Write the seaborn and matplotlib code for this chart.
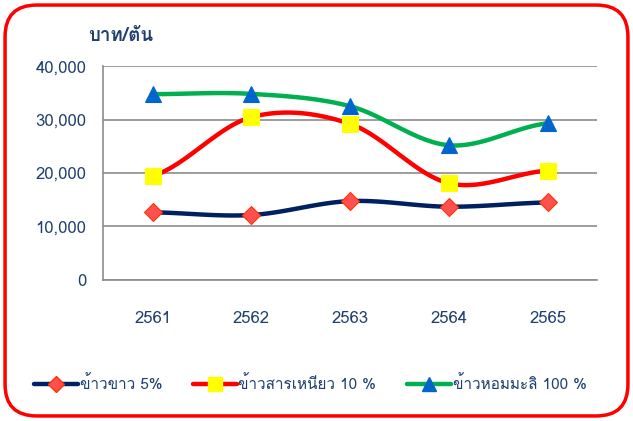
import numpy as np
import pandas as pd
import matplotlib
matplotlib.use("Agg")
import matplotlib.pyplot as plt
import seaborn as sns
from matplotlib import font_manager
from matplotlib.ft2font import FT2Font
from matplotlib.lines import Line2D
from matplotlib.patches import FancyBboxPatch

years = ["2561", "2562", "2563", "2564", "2565"]
white_rice = [12650, 12150, 14750, 13700, 14500]
glutinous = [19450, 30450, 29200, 18100, 20450]
jasmine = [34750, 34800, 32500, 25200, 29300]
labels = ["ข้าวขาว 5%", "ข้าวสารเหนียว 10 %", "ข้าวหอมมะลิ 100 %"]
y_ticks = [0, 10000, 20000, 30000, 40000]
unit = "บาท/ตัน"

# find some installed font that has thai glyphs
thai = []
for f in font_manager.fontManager.ttflist:
    try:
        if 0x0E02 in FT2Font(f.fname).get_charmap():
            thai.append(f.name)
    except Exception:
        pass
pref = [n for n in thai if any(k in n for k in ["Tahoma", "Noto Sans Thai", "Loma", "Garuda", "Sarabun"])]
families = (pref[:1] or thai[:1]) + ["DejaVu Sans"]

sns.set_style("white")
plt.rcParams['font.family'] = families

txt = "#1F3F6E"
grid = "#8C8C8C"


def smooth(ys, n=30):
    # catmull-rom curve through the points, like excel smoothed lines
    x = np.arange(len(ys), dtype=float)
    y = np.asarray(ys, dtype=float)
    px = np.concatenate([[2 * x[0] - x[1]], x, [2 * x[-1] - x[-2]]])
    py = np.concatenate([[y[0]], y, [y[-1]]])
    xs, yy = [], []
    for i in range(1, len(px) - 2):
        t = np.linspace(0, 1, n)
        for arr, out in ((px, xs), (py, yy)):
            p0, p1, p2, p3 = arr[i - 1], arr[i], arr[i + 1], arr[i + 2]
            out.extend(0.5 * ((2 * p1) + (-p0 + p2) * t + (2 * p0 - 5 * p1 + 4 * p2 - p3) * t ** 2
                              + (-p0 + 3 * p1 - 3 * p2 + p3) * t ** 3))
    return np.array(xs), np.array(yy)


series = [
    (white_rice, "#002060", "D", "#FF5050", "#FF3300", 9.5),
    (glutinous, "#FF0000", "s", "#FFFF00", "#FFFF00", 11),
    (jasmine, "#00B050", "^", "#0066CC", "#0066CC", 11.5),
]

fig = plt.figure(figsize=(6.33, 4.21), dpi=100)
ax = fig.add_axes([0.163, 0.335, 0.780, 0.508])

handles = []
for vals, lc, mk, mfc, mec, ms in series:
    sx, sy = smooth(vals)
    sns.lineplot(x=sx, y=sy, ax=ax, color=lc, lw=3.2, sort=False, zorder=2)
    df = pd.DataFrame({"x": np.arange(len(years)), "y": vals})
    ax.plot(df["x"], df["y"], ls="none", marker=mk, ms=ms, mfc=mfc, mec=mec, mew=0.8, zorder=3)
    handles.append(Line2D([], [], color=lc, lw=3.2, marker=mk, ms=ms - 1, mfc=mfc, mec=mec))

ax.set_xlim(-0.5, 4.5)
ax.set_ylim(0, 40000)
ax.set_yticks(y_ticks)
ax.set_yticklabels([f"{v:,}" for v in y_ticks])
ax.set_xticks(range(len(years)))
ax.set_xticklabels(years)
ax.set_xticks(np.arange(-0.5, 5, 1), minor=True)
ax.tick_params(axis="x", which="major", length=0, pad=22, labelsize=12, labelcolor=txt)
ax.tick_params(axis="x", which="minor", length=7, width=1.2, color=grid, direction="out")
ax.tick_params(axis="y", length=6, width=1.2, color=grid, direction="out", pad=6, labelsize=12, labelcolor=txt)
ax.yaxis.grid(True, color=grid, lw=1.2)
ax.set_axisbelow(True)
for s in ["top", "right"]:
    ax.spines[s].set_visible(False)
for s in ["left", "bottom"]:
    ax.spines[s].set_color(grid)
    ax.spines[s].set_linewidth(1.2)
ax.set_xlabel("")
ax.set_ylabel("")

fig.text(0.139, 0.914, unit, fontsize=13.5, fontweight="bold", color=txt, ha="left", va="center")

leg = fig.legend(handles, labels, loc="center", bbox_to_anchor=(0.49, 0.088), ncol=3, frameon=False,
                 fontsize=11, handlelength=2.9, handletextpad=0.1, columnspacing=2.0)
for t in leg.get_texts():
    t.set_color(txt)

border = FancyBboxPatch((0.008, 0.012), 0.984, 0.976, boxstyle="round,pad=0,rounding_size=0.05",
                        transform=fig.transFigure, fc="none", ec="#FF0000", lw=2.5, mutation_aspect=633 / 421)
fig.patches.append(border)

fig.savefig("out.png", dpi=100, facecolor="white")
